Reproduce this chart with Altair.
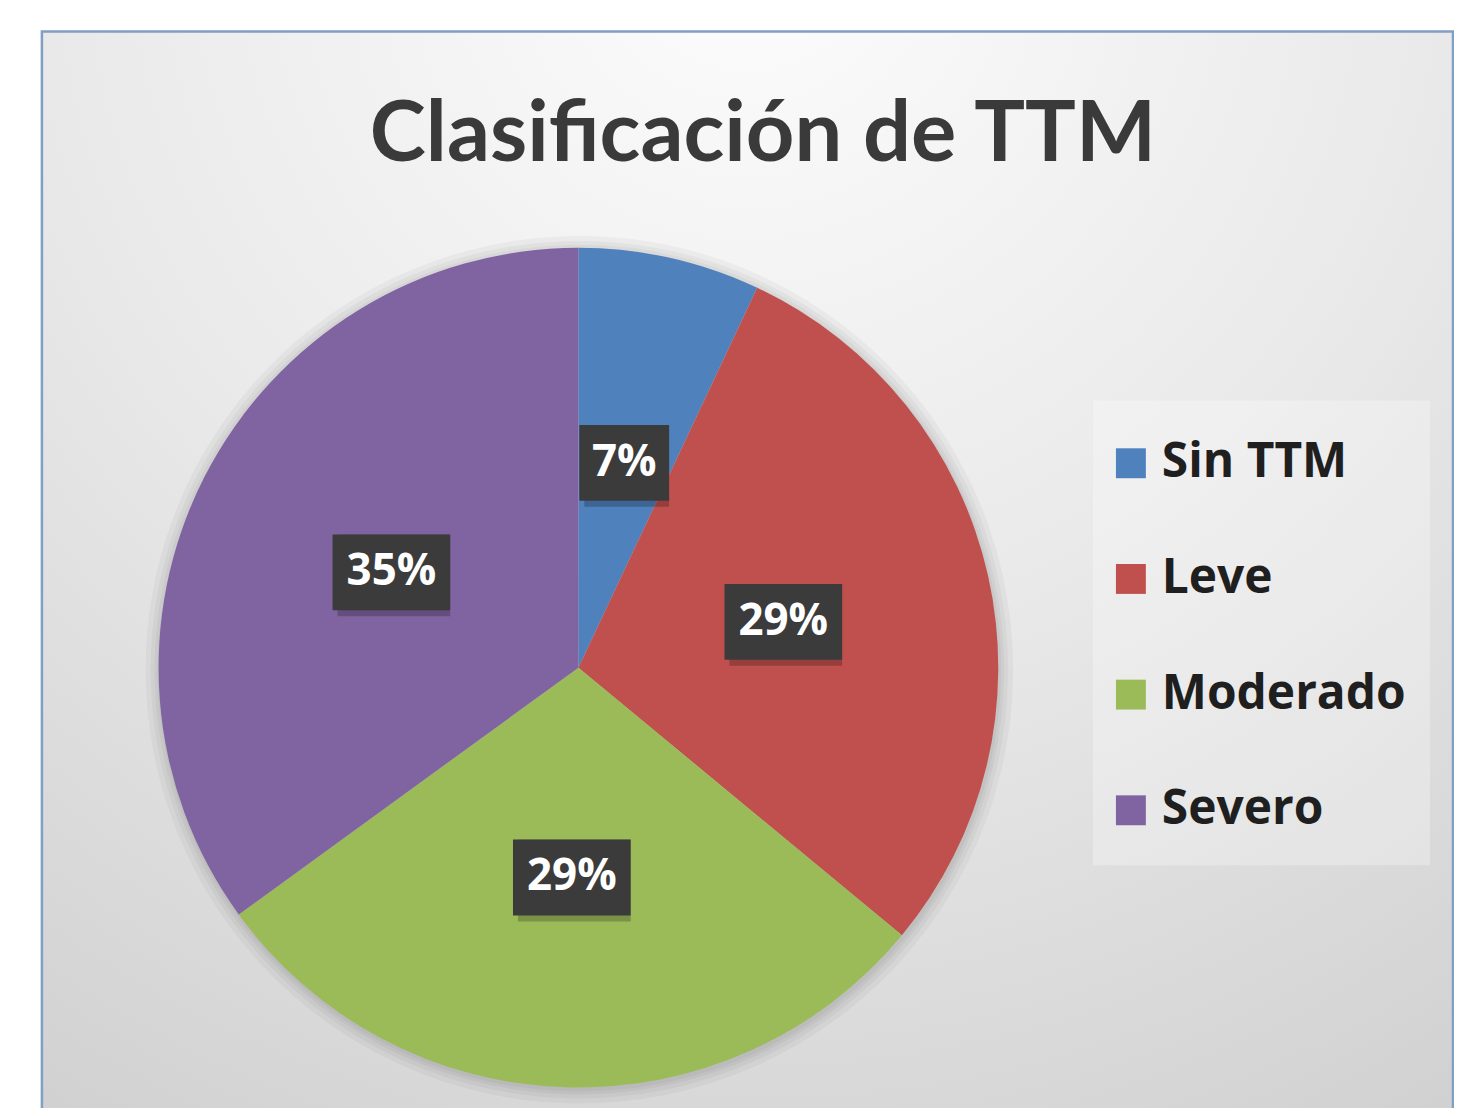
import altair as alt
import pandas as pd

# ---- data ----
categories = ["Sin TTM", "Leve", "Moderado", "Severo"]
values = [7, 29, 29, 35]
labels = ["7%", "29%", "29%", "35%"]
colors = ["#4f81bd", "#c0504d", "#9bbb59", "#8064a2"]
title_text = "Clasificación de TTM"

df = pd.DataFrame({
    "cat": categories,
    "value": values,
    "label": labels,
    "idx": list(range(len(categories))),
})

# ---- layout ----
W, H = 1450, 1100
CX, CY, R = 572, 660, 421
FONT = "Lato"
FONT2 = "Open Sans"

bg_fill = {
    "gradient": "radial",
    "x1": 0.5, "y1": 0.05, "r1": 0,
    "x2": 0.5, "y2": 0.05, "r2": 1.0,
    "stops": [
        {"offset": 0, "color": "#fdfdfd"},
        {"offset": 0.5, "color": "#e9e9e9"},
        {"offset": 1, "color": "#cfcfcf"},
    ],
}

bg = alt.Chart(alt.Data(values=[{}])).mark_rect(
    fill=bg_fill, stroke="#7f9fc4", strokeWidth=2.5
).encode(x=alt.value(34), x2=alt.value(1449), y=alt.value(22), y2=alt.value(1112))

legend_box = alt.Chart(alt.Data(values=[{}])).mark_rect(
    fill="white", fillOpacity=0.28
).encode(x=alt.value(1088), x2=alt.value(1426), y=alt.value(392), y2=alt.value(858))

base = alt.Chart(df)
theta = alt.Theta("value:Q", stack=True)
order = alt.Order("idx:Q")

shadows = [
    base.mark_arc(radius=R + d, color="black", opacity=0.035).encode(
        theta=theta, order=order, x=alt.value(CX + 1), y=alt.value(CY + 2)
    )
    for d in (2, 5, 9, 14)
]

pie = base.mark_arc(radius=R).encode(
    theta=theta,
    order=order,
    color=alt.Color(
        "cat:N",
        scale=alt.Scale(domain=categories, range=colors),
        legend=alt.Legend(
            orient="none",
            legendX=1102,
            legendY=431,
            direction="vertical",
            title=None,
            symbolType="square",
            symbolSize=900,
            symbolStrokeWidth=0,
            symbolOpacity=1,
            labelFont=FONT2,
            labelFontSize=48,
            labelFontWeight="bold",
            labelColor="#1f1f1f",
            labelOffset=7,
            labelLimit=400,
            rowPadding=68,
            padding=0,
        ),
    ),
    x=alt.value(CX),
    y=alt.value(CY),
)

lab = (
    base.transform_window(
        cum="sum(value)", sort=[alt.SortField("idx", order="ascending")], frame=[None, 0]
    )
    .transform_joinaggregate(total="sum(value)")
    .transform_calculate(
        mid="2*PI*(datum.cum - datum.value/2)/datum.total",
        ux="0.5*sin(datum.mid)",
        uy="0.5*cos(datum.mid)",
        hw=f"(length(datum.label)*14+17)/{R}",
        hh=f"38/{R}",
        bx1="datum.ux-datum.hw",
        bx2="datum.ux+datum.hw",
        by1="datum.uy-datum.hh",
        by2="datum.uy+datum.hh",
    )
)

xs = alt.Scale(domain=[-1, 1], range=[CX - R, CX + R])
ys = alt.Scale(domain=[-1, 1], range=[CY + R, CY - R])

box_enc = dict(
    x=alt.X("bx1:Q", scale=xs, axis=None),
    x2="bx2:Q",
    y=alt.Y("by1:Q", scale=ys, axis=None),
    y2="by2:Q",
)
box_shadow = lab.mark_rect(color="black", opacity=0.22, xOffset=5, yOffset=6).encode(**box_enc)
box = lab.mark_rect(color="#3b3b3b").encode(**box_enc)

txt = lab.mark_text(
    font=FONT2, fontSize=44, fontWeight="bold", color="white", baseline="middle", align="center"
).encode(
    x=alt.X("ux:Q", scale=xs, axis=None),
    y=alt.Y("uy:Q", scale=ys, axis=None),
    text="label:N",
)

title = alt.Chart(alt.Data(values=[{"t": title_text}])).mark_text(
    font=FONT, fontSize=85, fontWeight="bold", color="#3a3a3a", baseline="alphabetic", align="center"
).encode(x=alt.value(757), y=alt.value(152), text="t:N")

chart = (
    alt.layer(bg, legend_box, *shadows, pie, box_shadow, box, txt, title)
    .properties(
        width=W,
        height=H,
        autosize=alt.AutoSizeParams(type="none"),
        padding=0,
        background="white",
    )
    .configure_view(stroke=None)
)

chart.save("out.html", embed_options={"renderer": "svg", "actions": False})
